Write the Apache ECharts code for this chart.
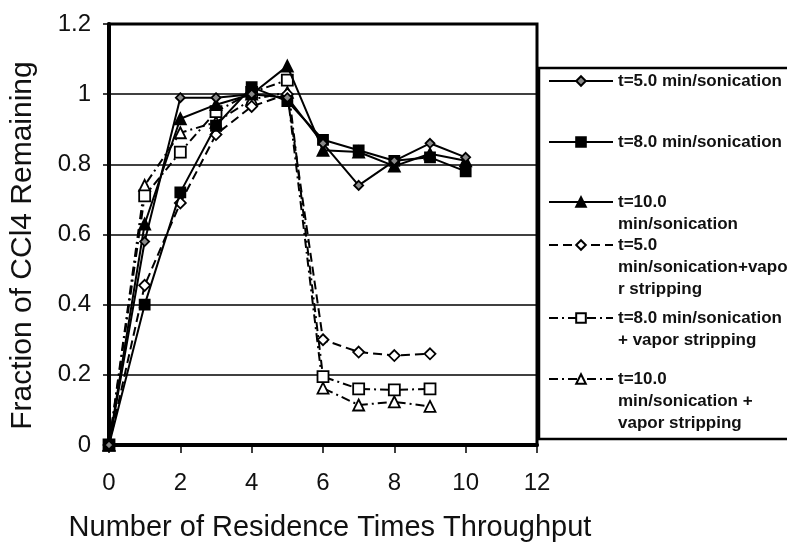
<!DOCTYPE html>
<html>
<head>
<meta charset="utf-8">
<script src="https://cdn.jsdelivr.net/npm/echarts@6/dist/echarts.min.js"></script>
<style>
html,body{margin:0;padding:0;background:#fff;}
#c{width:787px;height:550px;}
</style>
</head>
<body>
<div id="c"></div>
<script>
// Data
const xValues = [0, 1, 2, 3, 4, 5, 6, 7, 8, 9, 10];
const son5  = [0, 0.58, 0.99, 0.99, 1.0, 0.99, 0.86, 0.74, 0.81, 0.86, 0.82];
const son8  = [0, 0.40, 0.72, 0.91, 1.02, 0.98, 0.87, 0.84, 0.81, 0.82, 0.78];
const son10 = [0, 0.63, 0.93, 0.97, 1.0, 1.08, 0.84, 0.835, 0.795, 0.83, 0.81];
const vs5   = [0, 0.455, 0.69, 0.885, 0.965, 1.0, 0.30, 0.265, 0.255, 0.26];
const vs8   = [0, 0.71, 0.835, 0.95, 1.005, 1.04, 0.195, 0.16, 0.157, 0.16];
const vs10  = [0, 0.74, 0.89, 0.92, 0.985, 1.005, 0.162, 0.114, 0.123, 0.11];
const xTicks = [0, 2, 4, 6, 8, 10, 12];
const yTicks = [0, 0.2, 0.4, 0.6, 0.8, 1, 1.2];
const seriesNames = [
  't=5.0 min/sonication',
  't=8.0 min/sonication',
  't=10.0 min/sonication',
  't=5.0 min/sonication+vapor stripping',
  't=8.0 min/sonication + vapor stripping',
  't=10.0 min/sonication + vapor stripping'
];
const legendLabels = [
  't=5.0 min/sonication',
  't=8.0 min/sonication',
  't=10.0\nmin/sonication',
  't=5.0\nmin/sonication+vapo\nr stripping',
  't=8.0 min/sonication\n+ vapor stripping',
  't=10.0\nmin/sonication +\nvapor stripping'
];
const xTitle = 'Number of Residence Times Throughput';
const yTitle = 'Fraction of CCl4 Remaining';

function pairs(ys) { return ys.map((v, i) => [xValues[i], v]); }

const chart = echarts.init(document.getElementById('c'), null, {renderer: 'canvas'});

const styles = [
  {data: son5, symbol: 'diamond', size: 9, fill: '#8a8a8a', type: 'solid'},
  {data: son8, symbol: 'rect', size: 10, fill: '#000', type: 'solid'},
  {data: son10, symbol: 'triangle', size: 11, fill: '#000', type: 'solid'},
  {data: vs5, symbol: 'diamond', size: 11, fill: '#fff', type: [9, 5]},
  {data: vs8, symbol: 'rect', size: 11, fill: '#fff', type: [9, 4, 2, 4]},
  {data: vs10, symbol: 'triangle', size: 11, fill: '#fff', type: [9, 4, 2, 4]}
];

const series = styles.map((s, i) => ({
  name: seriesNames[i],
  type: 'line',
  data: pairs(s.data),
  symbol: s.symbol,
  symbolSize: s.size,
  showAllSymbol: true,
  z: 10 - i,
  lineStyle: {color: '#000', width: 2, type: s.type},
  itemStyle: {color: s.fill, borderColor: '#000', borderWidth: 1.8, opacity: 1},
  emphasis: {disabled: true},
  animation: false
}));

const firstLineCenters = [81, 142, 202, 245, 318, 379];
const legends = seriesNames.map((nm, i) => {
  const n = legendLabels[i].split('\n').length;
  // leading blank lines keep the icon level with the first text line
  const shown = '\n'.repeat(n - 1) + legendLabels[i];
  return {
    data: [nm],
    orient: 'vertical',
    left: 548,
    top: firstLineCenters[i] - (2 * n - 1) * 11,
    padding: 0,
    itemWidth: 64,
    itemHeight: 12,
    itemGap: 0,
    selectedMode: false,
    formatter: () => shown,
    textStyle: {
      fontFamily: 'Liberation Sans, Arial, sans-serif',
      fontSize: 17,
      fontWeight: 'bold',
      color: '#111',
      lineHeight: 22
    }
  };
});

const option = {
  backgroundColor: '#fff',
  animation: false,
  grid: {
    left: 108, right: 250, top: 24, bottom: 105,
    show: true, borderColor: '#000', borderWidth: 3, backgroundColor: 'transparent'
  },
  legend: legends,
  xAxis: {
    type: 'value',
    min: xTicks[0], max: xTicks[xTicks.length - 1], interval: xTicks[1] - xTicks[0],
    name: xTitle,
    nameLocation: 'middle',
    nameGap: 68,
    nameTextStyle: {fontFamily: 'Liberation Sans, Arial, sans-serif', fontSize: 29, color: '#111', padding: [0, 0, 0, 14]},
    axisLine: {show: true, lineStyle: {color: '#000', width: 4}},
    axisTick: {show: true, length: 8, lineStyle: {color: '#000', width: 1.5}},
    axisLabel: {margin: 26, fontFamily: 'Liberation Sans, Arial, sans-serif', fontSize: 24, color: '#111'},
    splitLine: {show: false}
  },
  yAxis: {
    type: 'value',
    min: yTicks[0], max: yTicks[yTicks.length - 1], interval: yTicks[1] - yTicks[0],
    name: yTitle,
    nameLocation: 'middle',
    nameGap: 71,
    nameTextStyle: {fontFamily: 'Liberation Sans, Arial, sans-serif', fontSize: 30, color: '#111', padding: [0, 22, 0, 0]},
    axisLine: {show: true, lineStyle: {color: '#000', width: 4}},
    axisTick: {show: true, length: 6, lineStyle: {color: '#000', width: 1.5}},
    axisLabel: {
      margin: 18, fontFamily: 'Liberation Sans, Arial, sans-serif', fontSize: 24, color: '#111',
      formatter: v => String(yTicks.find(t => Math.abs(t - v) < 1e-6) ?? v)
    },
    splitLine: {show: true, lineStyle: {color: '#000', width: 1.5}}
  },
  graphic: [{
    type: 'rect',
    shape: {x: 539, y: 68, width: 260, height: 371},
    style: {fill: 'none', stroke: '#000', lineWidth: 2.5},
    silent: true,
    z: 0
  }],
  series: series
};
chart.setOption(option);
</script>
</body>
</html>
